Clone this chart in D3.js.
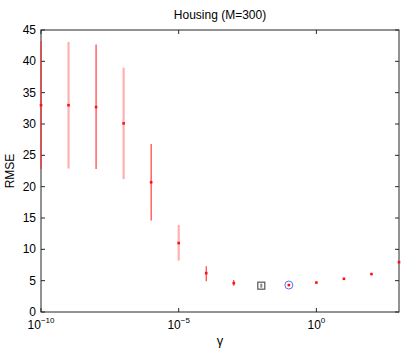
<!DOCTYPE html>
<html><head><meta charset="utf-8">
<script src="https://cdn.jsdelivr.net/npm/d3@7"></script>
<style>body{margin:0;background:#fff}svg{display:block;font-family:"Liberation Sans",Arial,sans-serif}</style>
</head><body>
<svg id="c" width="407" height="351"></svg>
<script>
const gammaExp = [-10,-9,-8,-7,-6,-5,-4,-3,-2,-1,0,1,2,3];
const rmseMean = [33.0,33.0,32.7,30.1,20.7,11.0,6.2,4.6,4.2,4.3,4.7,5.3,6.05,7.95];
const rmseLow  = [22.8,22.9,22.8,21.2,14.6,8.2,4.9,4.2,null,null,null,null,null,null];
const rmseHigh = [43.2,43.1,42.7,39.0,26.8,13.9,7.3,5.1,null,null,null,null,null,null];
const barStyle = ["red","pink","red","pink","red","pink","red","red",null,null,null,null,null,null];
const xTickExp = [-10,-5,0];
const yTicks = [0,5,10,15,20,25,30,35,40,45];
const squareIdx = 8, circleIdx = 9;

const svg = d3.select("#c");
const L=41,R=399,T=30,B=312;
const x = d3.scaleLog().domain([1e-10,1e3]).range([L,R]);
const y = d3.scaleLinear().domain([0,45]).range([B,T]);
const ax = "#262626";

svg.append("rect").attr("x",L).attr("y",T).attr("width",R-L).attr("height",B-T)
  .attr("fill","none").attr("stroke",ax).attr("stroke-width",1);

const tl=4;
yTicks.forEach(v=>{
  const yy=y(v);
  svg.append("line").attr("x1",L).attr("x2",L+tl).attr("y1",yy).attr("y2",yy).attr("stroke",ax);
  svg.append("line").attr("x1",R).attr("x2",R-tl).attr("y1",yy).attr("y2",yy).attr("stroke",ax);
  svg.append("text").attr("x",L-5).attr("y",yy+4).attr("text-anchor","end")
    .attr("font-size",12).attr("fill","#000").text(v);
});
xTickExp.forEach(e=>{
  const xx=x(Math.pow(10,e));
  svg.append("line").attr("x1",xx).attr("x2",xx).attr("y1",B).attr("y2",B-tl).attr("stroke",ax);
  svg.append("line").attr("x1",xx).attr("x2",xx).attr("y1",T).attr("y2",T+tl).attr("stroke",ax);
  const t=svg.append("text").attr("x",xx).attr("y",329).attr("text-anchor","middle").attr("fill","#000");
  t.append("tspan").attr("font-size",12).text("10");
  t.append("tspan").attr("font-size",8).attr("dy",-6).text(e===0?"0":"\u2212"+Math.abs(e));
});

gammaExp.forEach((e,i)=>{
  if(rmseLow[i]==null) return;
  const xx=x(Math.pow(10,e));
  const pink = barStyle[i]==="pink";
  svg.append("line").attr("x1",xx).attr("x2",xx).attr("y1",y(rmseLow[i])).attr("y2",y(rmseHigh[i]))
    .attr("stroke",pink?"#ffb0b0":"#ff2a2a").attr("stroke-width",pink?2.2:1.1);
});
{
  const xs=x(Math.pow(10,gammaExp[squareIdx])), ys=y(rmseMean[squareIdx]);
  svg.append("rect").attr("x",xs-3.5).attr("y",ys-3.5).attr("width",7).attr("height",7)
    .attr("fill","none").attr("stroke","#555").attr("stroke-width",1.2);
  svg.append("rect").attr("x",xs-1).attr("y",ys-2).attr("width",2).attr("height",4).attr("fill","#888");
  const xc=x(Math.pow(10,gammaExp[circleIdx])), yc=y(rmseMean[circleIdx]);
  svg.append("circle").attr("cx",xc).attr("cy",yc).attr("r",4).attr("fill","none")
    .attr("stroke","#5a6cff").attr("stroke-width",1);
}
gammaExp.forEach((e,i)=>{
  if(i===squareIdx) return;
  const xx=x(Math.pow(10,e)), yy=y(rmseMean[i]);
  svg.append("rect").attr("x",xx-1.3).attr("y",yy-1.3).attr("width",2.6).attr("height",2.6).attr("fill","#ff1010");
});

svg.append("text").attr("x",(L+R)/2).attr("y",19).attr("text-anchor","middle").attr("font-size",12).text("Housing (M=300)");
svg.append("text").attr("x",(L+R)/2).attr("y",345).attr("text-anchor","middle").attr("font-size",13).text("\u03b3");
svg.append("text").attr("transform",`translate(14,${(T+B)/2}) rotate(-90)`).attr("text-anchor","middle").attr("font-size",12).text("RMSE");
</script>
</body></html>
